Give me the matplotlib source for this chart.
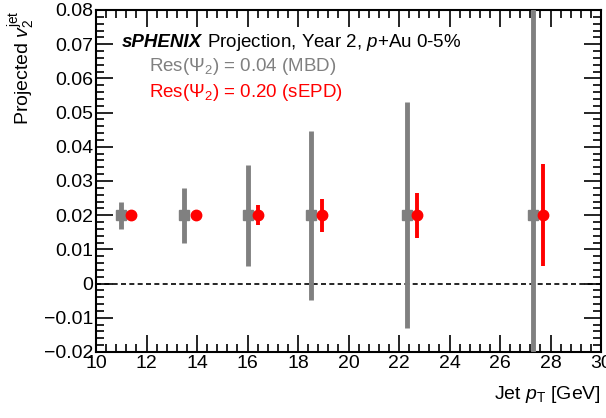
import matplotlib
matplotlib.use("Agg")
import matplotlib.pyplot as plt
from matplotlib.ticker import MultipleLocator, FuncFormatter

plt.rcParams['font.family'] = ['Liberation Sans', 'DejaVu Sans']
plt.rcParams['mathtext.fontset'] = 'custom'
plt.rcParams['mathtext.rm'] = 'Liberation Sans'
plt.rcParams['mathtext.it'] = 'Liberation Sans:italic'
plt.rcParams['mathtext.bf'] = 'Liberation Sans:bold'

# Jet pT bin centres and projected v2 values
pt_mbd = [11.0, 13.5, 16.0, 18.5, 22.3, 27.3]
pt_sepd = [11.4, 13.95, 16.4, 18.95, 22.7, 27.7]
v2_mbd = [0.02, 0.02, 0.02, 0.02, 0.02, 0.02]
v2_sepd = [0.02, 0.02, 0.02, 0.02, 0.02, 0.02]
err_mbd = [0.004, 0.008, 0.0148, 0.0247, 0.033, 0.07]
err_sepd = [0.0008, 0.0012, 0.003, 0.0048, 0.0066, 0.015]

fig = plt.figure(figsize=(6.06, 4.18), dpi=100)
ax = fig.add_axes([96/606, 1-352/418, (601-96)/606, (352-10)/418])

ax.axhline(0, color='black', lw=1.2, ls=(0, (3, 2)), zorder=1)

ax.errorbar(pt_mbd, v2_mbd, yerr=err_mbd, fmt='s', color='#808080',
            ms=7, elinewidth=3.5, capsize=0, zorder=3)
ax.errorbar(pt_sepd, v2_sepd, yerr=err_sepd, fmt='o', color='red',
            ms=7.5, elinewidth=2.8, capsize=0, zorder=4)

ax.set_xlim(10, 30)
ax.set_ylim(-0.02, 0.08)
ax.xaxis.set_major_locator(MultipleLocator(2))
ax.xaxis.set_minor_locator(MultipleLocator(0.4))
ax.yaxis.set_major_locator(MultipleLocator(0.01))
ax.yaxis.set_minor_locator(MultipleLocator(0.002))

def yfmt(v, pos):
    if abs(v) < 1e-9:
        return '0'
    s = f'{v:.2f}'
    return s.replace('-', '\u2212')

ax.yaxis.set_major_formatter(FuncFormatter(yfmt))
ax.xaxis.set_major_formatter(FuncFormatter(lambda v, p: f'{v:.0f}'))

ax.tick_params(which='both', direction='in', top=True, right=True,
               labelsize=14, width=1.2)
ax.tick_params(which='major', length=12, pad=2)
ax.tick_params(which='minor', length=6)
for s in ax.spines.values():
    s.set_linewidth(1.5)

ax.set_xlabel(r'Jet $p_{\mathrm{T}}$ [GeV]', fontsize=14, loc='right', labelpad=9)
ax.set_ylabel(r'Projected $v_{2}^{\mathrm{jet}}$', fontsize=14, loc='top', labelpad=4)

# Experiment label: bold-italic name followed by regular text
logo = ax.text(0.052, 0.905, 'sPHENIX', transform=ax.transAxes, fontsize=13.5,
               fontweight='bold', fontstyle='italic', va='center', ha='left')
fig.canvas.draw()
bb = logo.get_window_extent()
x_after = ax.transAxes.inverted().transform((bb.x1, bb.y0))[0]
ax.text(x_after, 0.905, r' Projection, Year 2, $p$+Au 0-5%',
        transform=ax.transAxes, fontsize=13.5, va='center', ha='left')
ax.text(0.105, 0.835, r'Res($\Psi_{2}$) = 0.04 (MBD)', color='#808080',
        transform=ax.transAxes, fontsize=13.5, va='center', ha='left')
ax.text(0.105, 0.76, r'Res($\Psi_{2}$) = 0.20 (sEPD)', color='red',
        transform=ax.transAxes, fontsize=13.5, va='center', ha='left')

fig.savefig('out.png', dpi=100)
